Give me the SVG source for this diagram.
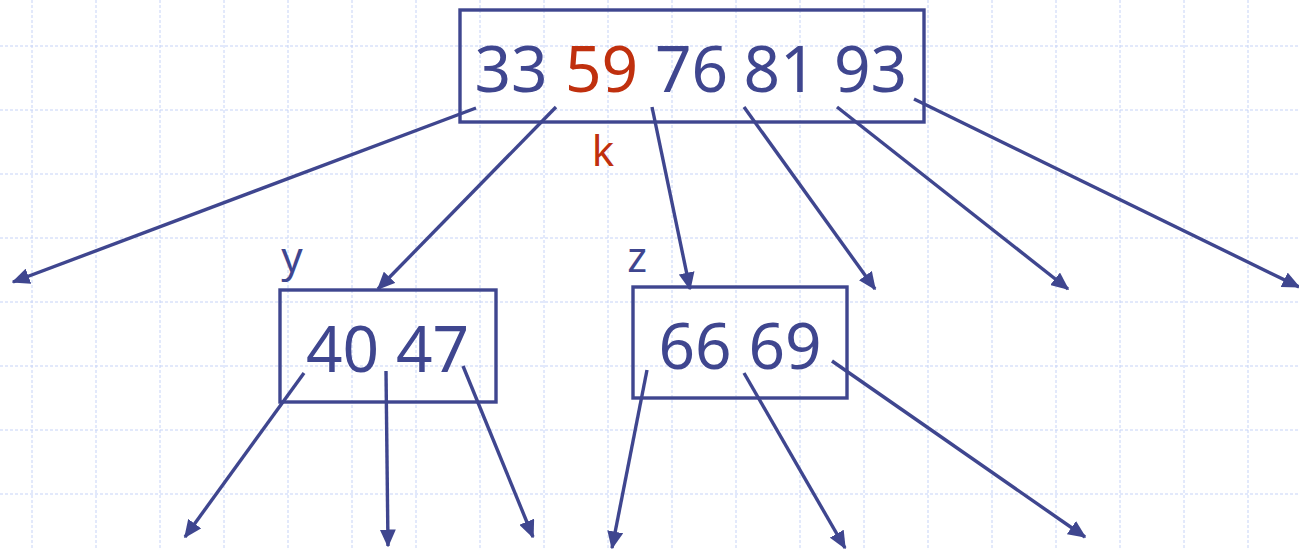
<svg xmlns="http://www.w3.org/2000/svg" width="1299" height="549" viewBox="0 0 1299 549">
<style>
.grid{stroke:#c6d3f7;stroke-width:1;stroke-dasharray:3 2;fill:none}
.box{fill:none;stroke:#3f468f;stroke-width:3.4}
.key{font-family:"Noto Sans","DejaVu Sans",sans-serif;font-size:64px;fill:#3f468f;text-anchor:middle}
.lbl{font-family:"Noto Sans","DejaVu Sans",sans-serif;font-size:42px;fill:#3f468f;text-anchor:middle}
.red{fill:#c0300e}
.arr{stroke:#3f468f;stroke-width:3.4;fill:none;marker-end:url(#ah)}
</style>
<defs>
<marker id="ah" viewBox="0 0 18 16" refX="16.5" refY="8" markerWidth="18" markerHeight="16" markerUnits="userSpaceOnUse" orient="auto">
<path d="M0,0 L18,8 L0,16 z" fill="#3f468f"/>
</marker>
</defs>
<rect width="1299" height="549" fill="#ffffff"/>
<g id="grid">
<path class="grid" d="M32,0V549M96,0V549M160,0V549M224,0V549M288,0V549M352,0V549M416,0V549M480,0V549M544,0V549M608,0V549M672,0V549M736,0V549M800,0V549M864,0V549M928,0V549M992,0V549M1056,0V549M1120,0V549M1184,0V549M1248,0V549M0,46H1299M0,110H1299M0,174H1299M0,238H1299M0,302H1299M0,366H1299M0,430H1299M0,494H1299"/>
</g>
<g id="root">
<rect class="box" x="460" y="10" width="464" height="112"/>
<text class="key" x="511" y="92">33</text>
<text class="key red" x="601.5" y="92">59</text>
<text class="key" x="691.5" y="92">76</text>
<text class="key" x="780" y="92">81</text>
<text class="key" x="870.5" y="92">93</text>
<text class="lbl red" x="603" y="166">k</text>
</g>
<g id="y">
<rect class="box" x="280" y="290" width="216" height="112"/>
<text class="key" x="342.5" y="372">40</text>
<text class="key" x="432.5" y="372">47</text>
<text class="lbl" x="292" y="272">y</text>
</g>
<g id="z">
<rect class="box" x="633" y="287" width="214" height="111"/>
<text class="key" x="695" y="369">66</text>
<text class="key" x="785" y="369">69</text>
<text class="lbl" x="637" y="272">z</text>
</g>
<g id="connectors">
<line class="arr" x1="476" y1="108" x2="13" y2="282"/>
<line class="arr" x1="556" y1="107" x2="378" y2="289"/>
<line class="arr" x1="652" y1="107" x2="690" y2="289"/>
<line class="arr" x1="744" y1="107" x2="875" y2="289"/>
<line class="arr" x1="837" y1="107" x2="1068" y2="289"/>
<line class="arr" x1="914" y1="99" x2="1299" y2="287"/>
<line class="arr" x1="304" y1="373" x2="185" y2="537"/>
<line class="arr" x1="386" y1="371" x2="388" y2="546"/>
<line class="arr" x1="463" y1="366" x2="533" y2="537"/>
<line class="arr" x1="647" y1="370" x2="612" y2="548"/>
<line class="arr" x1="744" y1="373" x2="845" y2="548"/>
<line class="arr" x1="832" y1="361" x2="1085" y2="537"/>
</g>
</svg>
